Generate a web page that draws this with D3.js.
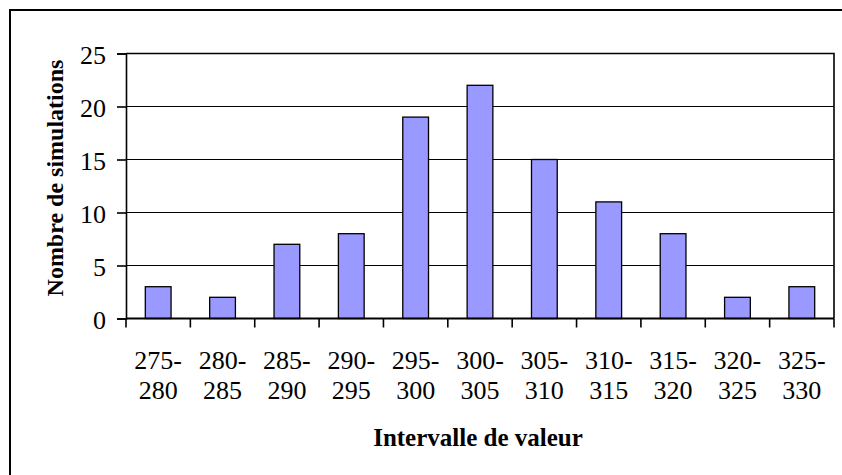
<!DOCTYPE html>
<html>
<head>
<meta charset="utf-8">
<script src="https://cdn.jsdelivr.net/npm/d3@7"></script>
<style>
  html, body { margin: 0; padding: 0; background: #fff; }
  svg { display: block; }
</style>
</head>
<body>
<svg id="chart" width="842" height="475"></svg>
<script>
// Histogram data: number of simulations per value interval
const categories = ["275-280", "280-285", "285-290", "290-295", "295-300", "300-305",
                    "305-310", "310-315", "315-320", "320-325", "325-330"];
const counts = [3, 2, 7, 8, 19, 22, 15, 11, 8, 2, 3];
const yTicks = [0, 5, 10, 15, 20, 25];

const svg = d3.select("#chart");
const plot = { left: 126, right: 834, top: 53.5, bottom: 318.5 };
const font = "'Liberation Serif', 'Times New Roman', serif";

// Chart frame
svg.append("rect")
  .attr("x", 10).attr("y", 10)
  .attr("width", 845).attr("height", 480)
  .attr("fill", "#fff").attr("stroke", "#000").attr("stroke-width", 2);

const x = d3.scaleBand().domain(categories).range([plot.left, plot.right]).padding(0);
const y = d3.scaleLinear().domain([0, 25]).range([plot.bottom, plot.top]);

// Horizontal gridlines
svg.append("g").selectAll("line").data(yTicks.slice(1)).join("line")
  .attr("x1", plot.left).attr("x2", plot.right)
  .attr("y1", d => y(d)).attr("y2", d => y(d))
  .attr("stroke", "#000").attr("stroke-width", 1.2);

// Plot area border (top and right)
svg.append("path")
  .attr("d", `M${plot.left},${plot.top}H${plot.right}V${plot.bottom}`)
  .attr("fill", "none").attr("stroke", "#000").attr("stroke-width", 1.6);

// Bars
const step = x.step();
svg.append("g").selectAll("rect").data(categories).join("rect")
  .attr("x", (c) => x(c) + step * 0.3)
  .attr("width", step * 0.4)
  .attr("y", (c, i) => y(counts[i]))
  .attr("height", (c, i) => y(0) - y(counts[i]))
  .attr("fill", "#9999ff")
  .attr("stroke", "#000").attr("stroke-width", 1.3);

// Y axis
const yAxis = svg.append("g")
  .attr("transform", `translate(${plot.left},0)`)
  .call(d3.axisLeft(y).tickValues(yTicks).tickSize(9).tickPadding(11));
yAxis.select(".domain").attr("stroke", "#000").attr("stroke-width", 1.6);
yAxis.selectAll(".tick line").attr("stroke", "#000").attr("stroke-width", 1.6);
yAxis.selectAll(".tick text")
  .attr("font-family", font).attr("font-size", 26).attr("fill", "#000")
  .attr("dy", 10);

// X axis: ticks at interval boundaries
const boundaries = categories.map(c => x(c)).concat([plot.right]);
const xAxis = svg.append("g");
xAxis.append("line")
  .attr("x1", plot.left).attr("x2", plot.right)
  .attr("y1", plot.bottom).attr("y2", plot.bottom)
  .attr("stroke", "#000").attr("stroke-width", 1.8);
xAxis.selectAll("line.tick").data(boundaries).join("line")
  .attr("class", "tick")
  .attr("x1", d => d).attr("x2", d => d)
  .attr("y1", plot.bottom).attr("y2", plot.bottom + 9)
  .attr("stroke", "#000").attr("stroke-width", 1.6);

// Category labels, wrapped onto two lines
const xl = xAxis.selectAll("text").data(categories).join("text")
  .attr("font-family", font).attr("font-size", 26).attr("fill", "#000")
  .attr("text-anchor", "middle");
xl.append("tspan")
  .attr("x", c => x(c) + step / 2).attr("y", 369)
  .text(c => c.split("-")[0] + "-");
xl.append("tspan")
  .attr("x", c => x(c) + step / 2).attr("y", 399)
  .text(c => c.split("-")[1]);

// Axis titles
svg.append("text")
  .attr("transform", "translate(63,178) rotate(-90)")
  .attr("text-anchor", "middle")
  .attr("font-family", font).attr("font-size", 24).attr("font-weight", "bold")
  .text("Nombre de simulations");

svg.append("text")
  .attr("x", 478).attr("y", 446)
  .attr("text-anchor", "middle")
  .attr("font-family", font).attr("font-size", 25).attr("font-weight", "bold")
  .text("Intervalle de valeur");
</script>
</body>
</html>
